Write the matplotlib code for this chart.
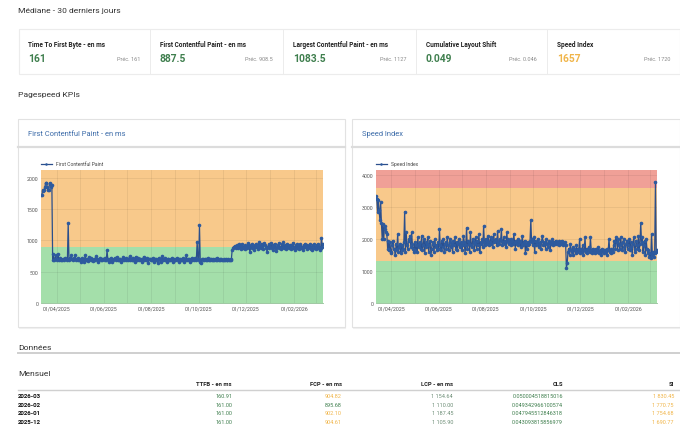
import matplotlib
matplotlib.use("Agg")
import matplotlib.pyplot as plt
import matplotlib.dates as mdates
import pandas as pd
from matplotlib.patches import Rectangle
from matplotlib.lines import Line2D

plt.rcParams["font.family"] = ["Roboto", "DejaVu Sans"]

W, H = 680, 427
GREEN_TXT = "#3f7f4e"
ORANGE_TXT = "#f0b54a"
BAND_GREEN = "#a4dfaa"
BAND_ORANGE = "#f8c98b"
BAND_RED = "#f0a097"
LINE = "#2b4f8c"

# KPI cards (median over last 30 days)
kpi_titles = ["Time To First Byte - en ms", "First Contentful Paint - en ms",
              "Largest Contentful Paint - en ms", "Cumulative Layout Shift",
              "Speed Index"]
kpi_values = ["161", "887.5", "1083.5", "0.049", "1657"]
kpi_prev = ["161", "908.5", "1127", "0.046", "1720"]
kpi_good = [True, True, True, True, False]

START = "2025-03-12"

# daily First Contentful Paint (ms), one line per month
fcp = [
    1720, 1720, 1790, 1800, 1800, 1850, 1920, 1920, 1850, 1800, 1800, 1920, 1900, 1860, 1880, 680, 780, 690, 700, 760,
    700, 680, 790, 690, 700, 720, 680, 690, 710, 700, 690, 720, 700, 690, 700, 1280, 690, 720, 700, 760, 700, 690, 720, 700, 770, 690, 700, 680, 720, 700,
    680, 650, 700, 720, 690, 660, 700, 760, 690, 700, 670, 690, 740, 700, 680, 720, 690, 670, 700, 710, 690, 750, 700, 680, 660, 700, 720, 690, 700, 680, 710,
    700, 690, 720, 680, 840, 700, 690, 660, 700, 720, 680, 650, 690, 700, 720, 690, 700, 740, 690, 680, 700, 710, 660, 690, 700, 730, 690, 700, 680, 720,
    700, 690, 710, 750, 690, 700, 680, 720, 690, 700, 660, 740, 700, 690, 720, 680, 700, 710, 690, 650, 700, 740, 690, 700, 680, 720, 690, 640, 700, 710, 690,
    700, 680, 720, 690, 660, 700, 710, 680, 640, 700, 720, 690, 700, 660, 750, 690, 700, 680, 720, 690, 650, 700, 710, 690, 680, 700, 720, 690, 660, 700, 690,
    680, 700, 720, 690, 650, 700, 710, 680, 700, 690, 720, 660, 700, 680, 760, 690, 700, 710, 680, 660, 700, 720, 690, 700, 680, 720, 690, 700, 980, 700,
    680, 1240, 660, 640, 700, 690, 710, 680, 700, 690, 700, 680, 720, 690, 700, 680, 700, 690, 710, 680, 690, 700, 680, 720, 690, 700, 680, 700, 690, 700, 680,
    690, 680, 700, 690, 710, 680, 690, 700, 680, 690, 700, 690, 840, 880, 900, 890, 910, 880, 920, 900, 880, 940, 900, 870, 910, 950, 880, 900, 860, 920,
    900, 880, 930, 960, 890, 810, 920, 880, 950, 900, 840, 920, 890, 950, 900, 860, 930, 970, 900, 880, 950, 910, 870, 960, 930, 900, 880, 820, 900, 940, 880,
    900, 960, 880, 850, 920, 900, 950, 880, 830, 900, 920, 960, 880, 900, 870, 940, 900, 970, 880, 920, 900, 860, 950, 900, 880, 930, 900, 870, 920, 960, 880,
    900, 850, 920, 880, 940, 900, 860, 920, 950, 880, 900, 840, 920, 890, 950, 900, 860, 930, 880, 900, 950, 870, 900, 850, 920, 940, 880, 900,
    860, 930, 880, 950, 900, 840, 880, 1040, 900, 950,
]

# daily Speed Index (ms), one line per month
si = [
    3330, 3250, 2850, 3200, 2900, 2600, 3150, 2500, 2000, 2450, 2000, 2400, 2300, 2200, 2150, 1700, 1950, 1650, 1900, 1600,
    1550, 1800, 1950, 1700, 1650, 1500, 1850, 1700, 2150, 1600, 1750, 1850, 1550, 1800, 1650, 1700, 1900, 2850, 1600, 2200, 1800, 1700, 1950, 2000, 2100, 1750, 2200, 1850, 1700, 1600,
    1900, 1650, 1800, 1600, 2050, 1750, 1850, 1900, 1700, 2100, 1650, 1800, 2000, 1550, 1900, 1750, 1850, 2050, 1600, 1800, 1950, 1500, 1700, 1900, 1850, 1600, 2000, 1750, 1800, 1650, 1900,
    1700, 2300, 1800, 1650, 1950, 1750, 2000, 1600, 1850, 1900, 1700, 2050, 1800, 1650, 1900, 2000, 1750, 1850, 1600, 1950, 1800, 2050, 1700, 1900, 1650, 1850, 2000, 1750, 1800, 1900,
    1650, 1800, 2100, 1900, 1550, 1800, 2350, 1700, 1950, 1850, 1600, 2200, 1800, 1750, 2000, 1900, 1650, 1850, 2050, 1700, 1950, 1800, 2150, 1600, 1900, 1850, 2000, 1750, 2400, 1900, 1800,
    2000, 1850, 1950, 2100, 1800, 1900, 2050, 1850, 2000, 1750, 2150, 1900, 1950, 2000, 1800, 2250, 1900, 1850, 2000, 1950, 2300, 1800, 1900, 2050, 1850, 1950, 1750, 2200, 1900, 2000, 1850,
    1900, 2000, 1800, 1950, 1850, 2150, 1900, 1700, 1950, 1850, 2000, 1800, 1900, 1950, 1750, 1850, 2100, 1800, 1900, 1950, 1550, 1850, 1700, 1900, 1800, 1850, 1950, 2600, 1900, 2000,
    1800, 2050, 1600, 1950, 1800, 1900, 2000, 1750, 1850, 1900, 1700, 1950, 2100, 1800, 1850, 1900, 1700, 2000, 1850, 1750, 1900, 1950, 1650, 1850, 1900, 2000, 1800, 1900, 1850, 1950, 1900,
    1850, 1900, 1800, 1950, 1900, 1850, 1950, 1800, 1900, 1850, 1900, 1800, 1100, 1250, 1600, 1700, 1500, 1850, 1650, 1600, 1750, 1500, 1700, 1650, 1550, 1800, 1600, 1700, 1650, 2000,
    1550, 1700, 1600, 1800, 1500, 1650, 2050, 1600, 1700, 1550, 1650, 1750, 1600, 2050, 1650, 1550, 1700, 1600, 1650, 1550, 1700, 1600, 1650, 1750, 1550, 1600, 1650, 1500, 1700, 1600, 1650,
    1550, 1650, 1600, 1500, 1700, 1650, 2000, 1600, 1550, 1700, 1650, 1600, 1800, 1950, 1700, 2050, 1900, 1650, 2000, 1800, 1700, 2050, 1850, 1650, 1900, 2000, 1750, 1600, 1850, 1950, 1700,
    1800, 2000, 1650, 1900, 1750, 1500, 1850, 2050, 1700, 1600, 1950, 1800, 1700, 2100, 1650, 1850, 2500, 1900, 2050, 1600, 1800, 1950, 1500, 2000, 1700, 1550, 1650, 1450,
    1550, 1400, 2150, 1500, 1600, 1450, 1550, 3780, 1600, 1650,
]

# monthly table
months = ["2026-03", "2026-02", "2026-01", "2025-12"]
ttfb_m = [160.91, 161.00, 161.00, 161.00]
fcp_m = [904.82, 895.68, 902.10, 904.61]
lcp_m = [1154.64, 1110.00, 1187.45, 1105.90]
cls_m = ["0.050004518815016", "0.049342966100574", "0.047945512846318", "0.043093815856979"]
si_m = [1830.45, 1770.75, 1754.68, 1690.77]
table_cols = ["TTFB - en ms", "FCP - en ms", "LCP - en ms", "CLS", "SI"]


def fx(x):
    return x / W


def fy(y):
    return 1 - y / H


def txt(x, y, s, **kw):
    kw.setdefault("va", "center")
    fig.text(fx(x), fy(y), s, **kw)


def box(x0, y0, x1, y1, ec="#e4e4e4", fc="white", lw=0.8, z=-2):
    fig.patches.append(Rectangle((fx(x0), fy(y1)), (x1 - x0) / W, (y1 - y0) / H,
                                 transform=fig.transFigure, fc=fc, ec=ec, lw=lw, zorder=z))


def hline(x0, x1, y, color="#d6d6d6", lw=1.2):
    fig.add_artist(Line2D([fx(x0), fx(x1)], [fy(y), fy(y)], transform=fig.transFigure,
                          color=color, lw=lw))


def vline(x, y0, y1, color="#ececec", lw=0.7):
    fig.add_artist(Line2D([fx(x), fx(x)], [fy(y0), fy(y1)], transform=fig.transFigure,
                          color=color, lw=lw))


def thou(v):
    return f"{v:,.2f}".replace(",", " ")


fig = plt.figure(figsize=(W / 100, H / 100), dpi=100)
fig.patch.set_facecolor("white")

# ---- KPI row
txt(18, 11, "Médiane - 30 derniers jours", fontsize=6.1, color="#333333")
box(18.5, 30, 679.5, 75, ec="#ececec")
edges = [18, 150, 283, 416, 547, 680]
for i in range(5):
    x0, x1 = edges[i], edges[i + 1]
    if i > 0:
        vline(x0, 30, 75)
    txt(x0 + 10, 45, kpi_titles[i], fontsize=4.7, fontweight="bold", color="#222222")
    txt(x0 + 10, 58.5, kpi_values[i], fontsize=7.4, fontweight="bold",
        color=GREEN_TXT if kpi_good[i] else ORANGE_TXT)
    txt(x1 - 10, 60, "Préc. " + kpi_prev[i], fontsize=4.0, color="#8a8a8a", ha="right")

txt(18, 95, "Pagespeed KPIs", fontsize=6.1, color="#333333")


# ---- charts
def chart(card, plot, title, label, values, ymax, bands, ystep):
    cx0, cy0, cx1, cy1 = card
    box(cx0 + 0.5, cy0 + 1.2, cx1 + 0.5, cy1 + 1.2, ec="#f0f0f0", fc="#f0f0f0", z=-3)
    box(cx0, cy0, cx1, cy1, ec="#e2e2e2")
    txt(cx0 + 10, 134, title, fontsize=5.4, color="#3a6aa8")
    hline(cx0, cx1, 148, color="#dcdcdc", lw=1.6)

    px0, py0, px1, py1 = plot
    ax = fig.add_axes([fx(px0), fy(py1), (px1 - px0) / W, (py1 - py0) / H], zorder=2)
    dates = pd.date_range(START, periods=len(values), freq="D")
    for lo, hi, c in bands:
        ax.axhspan(lo, hi, color=c, lw=0, zorder=0)
    ax.plot(dates, values, color=LINE, lw=0.9, marker="o", ms=2.6, mew=0,
            mfc="#2d5a9e", zorder=3, label=label)
    ax.set_xlim(dates[0], dates[-1])
    ax.set_ylim(0, ymax)
    ax.set_yticks(range(0, int(ymax), ystep))
    ax.xaxis.set_major_locator(mdates.MonthLocator(bymonth=[2, 4, 6, 8, 10, 12]))
    ax.xaxis.set_major_formatter(mdates.DateFormatter("%d/%m/%Y"))
    ax.xaxis.set_minor_locator(mdates.MonthLocator())
    ax.grid(True, which="both", axis="x", color="#000000", alpha=0.07, lw=0.6)
    ax.grid(True, which="major", axis="y", color="#000000", alpha=0.07, lw=0.6)
    ax.set_axisbelow(False)
    ax.tick_params(which="both", length=0, labelsize=3.8, colors="#555555", pad=2)
    for s in ("top", "right", "left"):
        ax.spines[s].set_visible(False)
    ax.spines["bottom"].set_color("#8fbf93")
    ax.spines["bottom"].set_linewidth(0.6)
    ax.legend(loc="lower left", bbox_to_anchor=(-0.005, 1.02), frameon=False,
              fontsize=3.6, handlelength=2.2, borderaxespad=0, borderpad=0.2,
              labelcolor="#444444", markerscale=0.7)
    return ax


chart((18, 120, 345, 328), (41, 171, 323, 304), "First Contentful Paint - en ms",
      "First Contentful Paint", fcp, 2125, [(0, 900, BAND_GREEN), (900, 2125, BAND_ORANGE)], 500)
chart((352, 120, 680, 328), (376, 171, 657, 304), "Speed Index",
      "Speed Index", si, 4150,
      [(0, 1300, BAND_GREEN), (1300, 3580, BAND_ORANGE), (3580, 4150, BAND_RED)], 1000)

# ---- data table
txt(18, 348, "Données", fontsize=6.1, color="#333333")
hline(18, 680, 354, color="#cfcfcf", lw=1.4)
txt(18, 374, "Mensuel", fontsize=6.1, color="#333333")

col_x = [232, 342, 453, 563, 674]
for cx, name in zip(col_x, table_cols):
    txt(cx, 385, name, fontsize=4.2, fontweight="bold", color="#222222", ha="right")
hline(18, 680, 390.5, color="#d0d0d0", lw=1.0)

row_y = [397, 405.5, 414, 422.5]
for j, m in enumerate(months):
    y = row_y[j]
    txt(18, y, m, fontsize=4.4, fontweight="bold", color="#111111")
    cells = [
        (f"{ttfb_m[j]:.2f}", GREEN_TXT),
        (f"{fcp_m[j]:.2f}", GREEN_TXT if fcp_m[j] <= 900 else ORANGE_TXT),
        (thou(lcp_m[j]), "#6f8f78"),
        (cls_m[j], GREEN_TXT),
        (thou(si_m[j]), ORANGE_TXT),
    ]
    for cx, (s, c) in zip(col_x, cells):
        txt(cx, y, s, fontsize=4.0, color=c, ha="right")

fig.savefig("out.png", dpi=100, facecolor="white")
